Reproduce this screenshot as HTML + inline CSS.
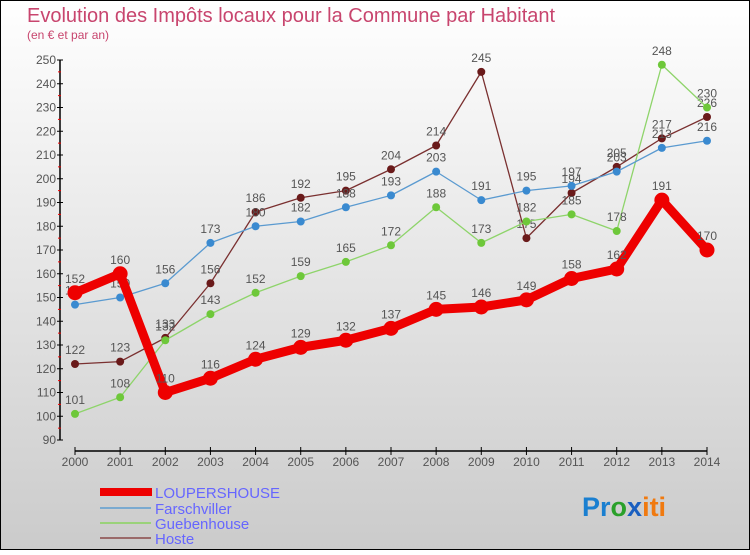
<!DOCTYPE html>
<html><head><meta charset="utf-8"><style>
html,body{margin:0;padding:0}
body{width:750px;height:550px;overflow:hidden;font-family:"Liberation Sans",sans-serif}
</style></head><body>
<svg id="chart" width="750" height="550" xmlns="http://www.w3.org/2000/svg">
<defs><linearGradient id="bg" x1="0" y1="0" x2="0" y2="1"><stop offset="0" stop-color="#ffffff"/><stop offset="1" stop-color="#cbcbcb"/></linearGradient></defs>
<rect x="0.5" y="0.5" width="749" height="549" fill="url(#bg)" stroke="#000"/>
<text x="27" y="22" font-size="20" fill="#c8456e">Evolution des Impôts locaux pour la Commune par Habitant</text>
<text x="27" y="39" font-size="12" fill="#c8456e">(en € et par an)</text>
<g id="axes"></g>
<g id="series"></g>
<g id="legend" font-size="15" fill="#6666ff">
<rect x="100" y="488" width="52" height="8" fill="#e00"/>
<text x="155" y="498">LOUPERSHOUSE</text>
<line x1="100" y1="508" x2="151" y2="508" stroke="#7aaad0" stroke-width="2"/>
<text x="155" y="514">Farschviller</text>
<line x1="100" y1="523" x2="151" y2="523" stroke="#9ad27a" stroke-width="2"/>
<text x="155" y="529">Guebenhouse</text>
<line x1="100" y1="538" x2="151" y2="538" stroke="#9a6a6a" stroke-width="2"/>
<text x="155" y="544">Hoste</text>
</g>
<text x="582" y="516" font-size="27" font-weight="bold"><tspan fill="#1a7fd0">Pr</tspan><tspan fill="#2aa02a">o</tspan><tspan fill="#1a5fc0">x</tspan><tspan fill="#f07a10">iti</tspan></text>
</svg>
<script>
const years=[2000,2001,2002,2003,2004,2005,2006,2007,2008,2009,2010,2011,2012,2013,2014];
const loupershouse=[152,160,110,116,124,129,132,137,145,146,149,158,162,191,170];
const farschviller=[147,150,156,173,180,182,188,193,203,191,195,197,203,213,216];
const guebenhouse=[101,108,132,143,152,159,165,172,188,173,182,185,178,248,230];
const hoste=[122,123,133,156,186,192,195,204,214,245,175,194,205,217,226];
const yTicks=[90,100,110,120,130,140,150,160,170,180,190,200,210,220,230,240,250];

const NS="http://www.w3.org/2000/svg";
const x=i=>75+i*(632/(years.length-1));
const y=v=>440-(v-90)*2.375;
function mk(tag,attrs,parent){const e=document.createElementNS(NS,tag);for(const k in attrs)e.setAttribute(k,attrs[k]);parent.appendChild(e);return e;}
const axes=document.getElementById('axes');
let yl=mk('line',{x1:60,y1:y(250),x2:60,y2:y(90),stroke:'#000','stroke-width':1.5},axes);


yTicks.forEach(t=>{
 let tk=mk('line',{x1:57,y1:y(t),x2:63,y2:y(t),stroke:'#000'},axes);
 
 
 if(t<250){let m=mk('line',{x1:58,y1:y(t+5),x2:61,y2:y(t+5),stroke:'#e00'},axes);
 
 }
 let tx=mk('text',{x:56,y:y(t)+4,'text-anchor':'end','font-size':12,fill:'#555'},axes);tx.textContent=t;
 
 
});
let xl=mk('line',{x1:x(0),y1:451,x2:x(years.length-1),y2:451,stroke:'#000','stroke-width':1.5},axes);


years.forEach((yr,i)=>{
 let tk=mk('line',{x1:x(i),y1:447,x2:x(i),y2:455,stroke:'#000'},axes);
 
 
 let tx=mk('text',{x:x(i),y:466,'text-anchor':'middle','font-size':12,fill:'#555'},axes);tx.textContent=yr;
 
 
});
const sg=document.getElementById('series');
function draw(name,data,color,dot,w,r){
 const g=mk('g',{},sg);
 
 
 let p=mk('polyline',{points:data.map((v,i)=>x(i)+','+y(v)).join(' '),fill:'none',stroke:color,'stroke-width':w,'stroke-linejoin':'round'},g);
 
 
 data.forEach((v,i)=>{
  let c=mk('circle',{cx:x(i),cy:y(v),r:r,fill:dot},g);
  
  
  let t=mk('text',{x:x(i),y:y(v)-10,'text-anchor':'middle','font-size':12,fill:'#555'},g);t.textContent=v;
  
  
 });
}
draw('hoste',hoste,'#7a3030','#6a1a1a',1.3,4);
draw('guebenhouse',guebenhouse,'#8ed46a','#6ec83a',1.3,4);
draw('farschviller',farschviller,'#5a9ad0','#3a8ad0',1.3,4);
draw('loupershouse',loupershouse,'#ee0000','#ee0000',9,7.5);
</script>
</body></html>
